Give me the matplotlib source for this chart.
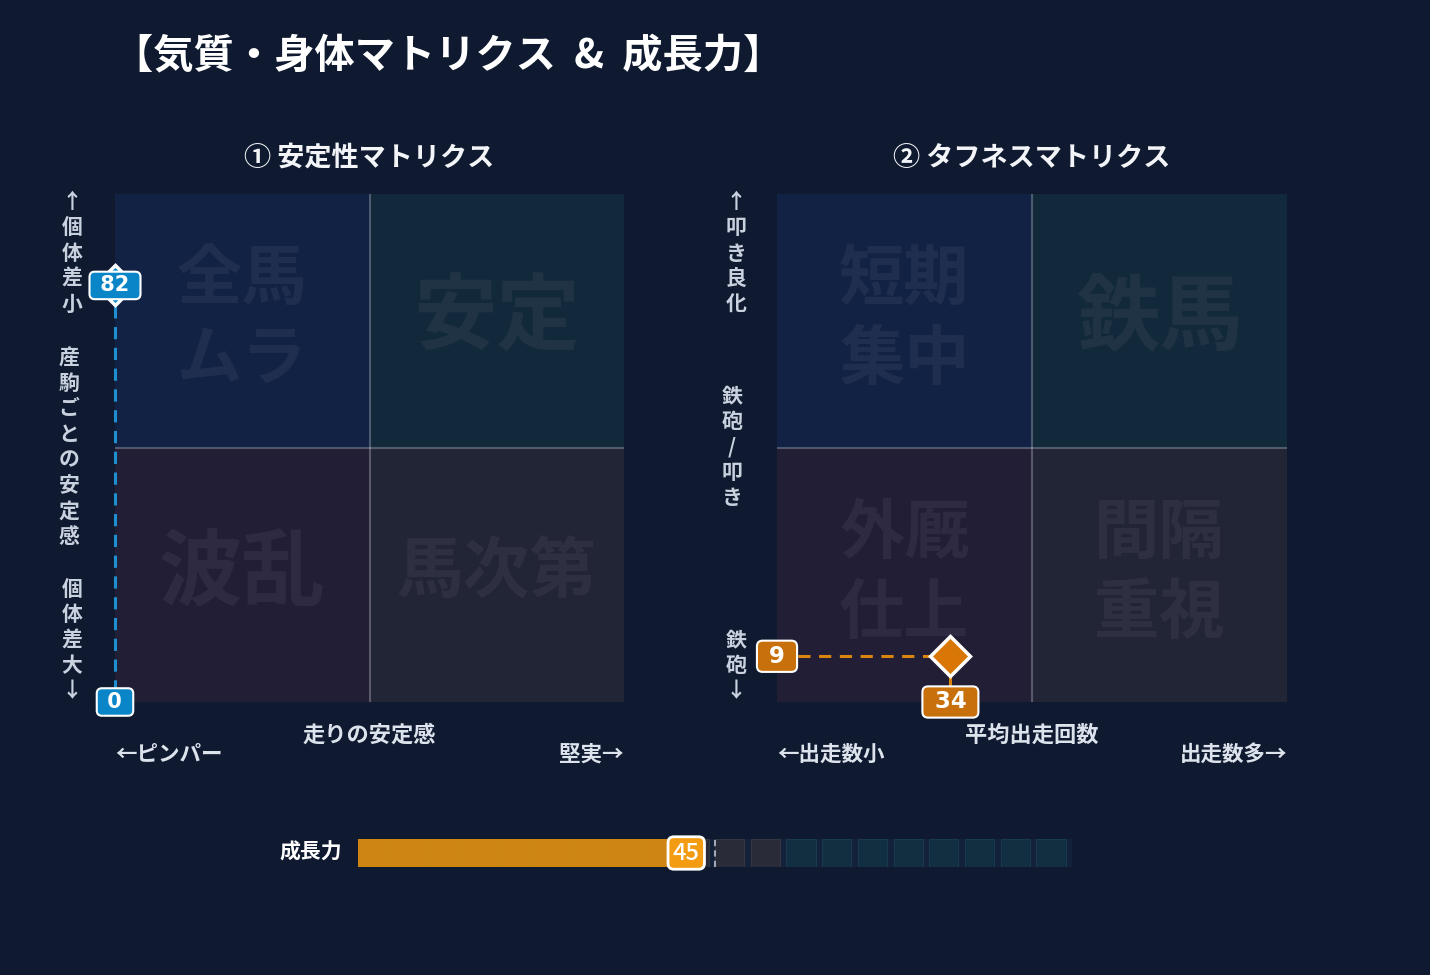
import matplotlib
matplotlib.use('Agg')
import matplotlib.pyplot as plt
from matplotlib.patches import Rectangle

plt.rcParams['font.family'] = ['Noto Sans CJK JP', 'DejaVu Sans']

W, H = 1430, 975
BG = '#0f1a30'

# --- data ---
title = '【気質・身体マトリクス  &  成長力】'
m1_title = '① 安定性マトリクス'
m2_title = '② タフネスマトリクス'

# quadrants in order: top-left, top-right, bottom-left, bottom-right
m1_quads = ['全馬\nムラ', '安定', '波乱', '馬次第']
m2_quads = ['短期\n集中', '鉄馬', '外厩\n仕上', '間隔\n重視']

m1_x_labels = ['走りの安定感', '←ピンパー', '堅実→']
m2_x_labels = ['平均出走回数', '←出走数小', '出走数多→']
m1_y_labels = ['↑個体差小', '産駒ごとの安定感', '個体差大↓']
m2_y_labels = ['↑叩き良化', '鉄砲/叩き', '鉄砲↓']

m1_point = (0, 82)
m2_point = (34, 9)

growth_label = '成長力'
growth_value = 45
growth_avg = 50
growth_steps = list(range(0, 100, 5))
growth_hi_zone = 60

quad_colors = ['#122244', '#12283b', '#221e36', '#222536']


def fx(x):
	return x / W

def fy(y):
	return 1 - y / H


fig = plt.figure(figsize=(W / 100, H / 100), dpi=100, facecolor=BG)

fig.text(fx(113), fy(56), title, ha='left', va='center', fontsize=29,
	fontweight='bold', color='white')


def matrix(ax, quads, point, line_c, box_c, mark_c, box_fs):
	ax.set_xlim(0, 100)
	ax.set_ylim(0, 100)
	ax.axis('off')
	cells = [(0, 50), (50, 50), (0, 0), (50, 0)]
	for (x0, y0), fc, label in zip(cells, quad_colors, quads):
		ax.add_patch(Rectangle((x0, y0), 50, 50, fc=fc, lw=0, zorder=0))
		lines = label.split('\n')
		if len(lines) > 1:
			fs = 47
		elif len(label) == 2:
			fs = 60
		else:
			fs = 48
		step = 15.7
		top = y0 + 25.3 + step * (len(lines) - 1) / 2
		for i, t in enumerate(lines):
			ax.text(x0 + 25, top - i * step, t, ha='center', va='center',
				fontsize=fs, fontweight='bold', color='white', alpha=0.055, zorder=1)
	ax.axvline(50, color='white', alpha=0.25, lw=1.5, zorder=2)
	ax.axhline(50, color='white', alpha=0.25, lw=1.5, zorder=2)

	px, py = point
	ax.plot([0, px], [py, py], ls=(0, (4, 2.8)), color=line_c, lw=2.2, zorder=3, clip_on=False)
	ax.plot([px, px], [py, 0], ls=(0, (4, 2.8)), color=line_c, lw=2.2, zorder=3, clip_on=False)
	ax.plot(px, py, marker='D', ms=20, mfc=mark_c, mec='white', mew=2.5,
		zorder=4, clip_on=False)

	bb = dict(boxstyle='round,pad=0.18,rounding_size=0.25', fc=box_c, ec='white', lw=1.5)
	ax.text(0, py, ' %d ' % py, ha='center', va='center', fontsize=box_fs, fontweight='bold',
		family='DejaVu Sans', color='white', bbox=bb, zorder=6, clip_on=False)
	ax.text(px, 0, ' %d ' % px, ha='center', va='center', fontsize=box_fs, fontweight='bold',
		family='DejaVu Sans', color='white', bbox=bb, zorder=6, clip_on=False)


def vlabel(text, x, y0, pitch=25.5):
	for i, ch in enumerate(text):
		fig.text(fx(x), fy(y0 + i * pitch), ch, ha='center', va='center',
			fontsize=15, fontweight='bold', color='#c9d1de')


ax1 = fig.add_axes([fx(115), fy(702), 509 / W, 508 / H])
matrix(ax1, m1_quads, m1_point, '#1e8fd0', '#0a86c8', '#0a86c8', 15)
ax2 = fig.add_axes([fx(777), fy(702), 510 / W, 508 / H])
matrix(ax2, m2_quads, m2_point, '#d9860f', '#c8700c', '#d97706', 16.5)

for cx, sub in [(369, m1_title), (1032, m2_title)]:
	fig.text(fx(cx), fy(158), sub, ha='center', va='center', fontsize=19.5,
		fontweight='bold', color='#f2f4f8')

for (l, r), labs in [((115, 624), m1_x_labels), ((777, 1287), m2_x_labels)]:
	fig.text(fx((l + r) / 2), fy(735), labs[0], ha='center', va='center',
		fontsize=16, fontweight='bold', color='#dde3ec')
	fig.text(fx(l), fy(754), labs[1], ha='left', va='center',
		fontsize=15.5, fontweight='bold', color='#dde3ec')
	fig.text(fx(r), fy(754), labs[2], ha='right', va='center',
		fontsize=15.5, fontweight='bold', color='#dde3ec')

vlabel(m1_y_labels[0], 72, 202)
vlabel(m1_y_labels[1], 69, 358)
vlabel(m1_y_labels[2], 72, 589)
vlabel(m2_y_labels[0], 736, 202)
vlabel(m2_y_labels[1], 732, 396)
vlabel(m2_y_labels[2], 736, 640)

# growth bar
axg = fig.add_axes([fx(358), fy(867), 714 / W, 28 / H])
axg.set_xlim(0, 100)
axg.set_ylim(0, 1)
axg.axis('off')
axg.add_patch(Rectangle((0, 0), 100, 1, fc='#14213b', lw=0, zorder=0))
for s in growth_steps:
	if s < growth_hi_zone:
		c, e = '#292c38', '#34363f'
	else:
		c, e = '#112f40', '#173a4c'
	axg.bar(s, 1, width=4.1, align='edge', color=c, edgecolor=e, lw=0.8, zorder=1)
axg.bar(0, 1, width=growth_value, align='edge', color='#d88b12', alpha=0.95, lw=0, zorder=2)
axg.axvline(growth_avg, ls=(0, (3, 2)), color='#a0a8b4', lw=1.5, zorder=3)
axg.annotate(str(growth_value), (growth_value, 0.5), xytext=(5, 0), textcoords='offset points',
	ha='center', va='center', fontsize=17, fontweight='medium', color='white',
	family='Noto Sans CJK JP',
	bbox=dict(boxstyle='round,pad=0.2,rounding_size=0.25', fc='#f39c12', ec='white', lw=2),
	zorder=5, annotation_clip=False)
fig.text(fx(342), fy(852), growth_label, ha='right', va='center', fontsize=15,
	fontweight='bold', color='white')

fig.savefig('out.png', dpi=100, facecolor=BG)
